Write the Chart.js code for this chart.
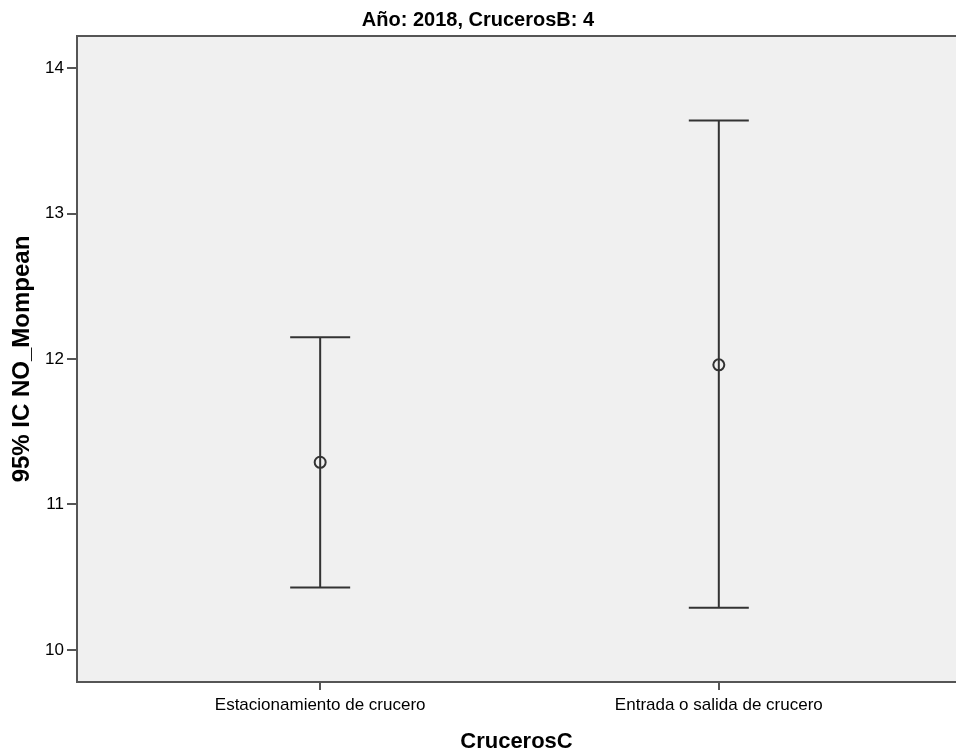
<!DOCTYPE html>
<html>
<head>
<meta charset="utf-8">
<script src="https://cdn.jsdelivr.net/npm/chart.js@4.4.1/dist/chart.umd.min.js"></script>
<style>
  html, body { margin: 0; padding: 0; background: #fff; overflow: hidden; }
  #wrap { width: 956px; height: 756px; }
  canvas { display: block; }
</style>
</head>
<body>
<div id="wrap"><canvas id="chart"></canvas></div>
<script>
const categories = ["Estacionamiento de crucero", "Entrada o salida de crucero"];
const means = [11.29, 11.96];
const lower = [10.43, 10.29];
const upper = [12.15, 13.64];
const yTicks = [10, 11, 12, 13, 14];

const FONT = "'Liberation Sans', Arial, sans-serif";
const AXIS = "#555";
const INK = "#333";

// grey plot background + top frame line
const plotBg = {
    id: "plotBg",
    beforeDraw(chart) {
        const { ctx, chartArea: a } = chart;
        ctx.save();
        ctx.fillStyle = "#f0f0f0";
        ctx.fillRect(a.left, a.top, a.right - a.left, a.bottom - a.top);
        ctx.strokeStyle = AXIS;
        ctx.lineWidth = 2;
        ctx.beginPath();
        ctx.moveTo(a.left, a.top);
        ctx.lineTo(a.right, a.top);
        ctx.stroke();
        ctx.restore();
    }
};

// 95% CI whiskers with caps
const errorBars = {
    id: "errorBars",
    beforeDatasetsDraw(chart) {
        const { ctx, scales: { x, y } } = chart;
        const cap = 30;
        ctx.save();
        ctx.strokeStyle = INK;
        ctx.lineWidth = 2;
        categories.forEach((c, i) => {
            const px = x.getPixelForValue(i + 1);
            const top = y.getPixelForValue(upper[i]);
            const bot = y.getPixelForValue(lower[i]);
            ctx.beginPath();
            ctx.moveTo(px, top);
            ctx.lineTo(px, bot);
            ctx.moveTo(px - cap, top);
            ctx.lineTo(px + cap, top);
            ctx.moveTo(px - cap, bot);
            ctx.lineTo(px + cap, bot);
            ctx.stroke();
        });
        ctx.restore();
    }
};

new Chart(document.getElementById("chart"), {
    type: "scatter",
    data: {
        datasets: [{
            data: means.map((m, i) => ({ x: i + 1, y: m })),
            pointStyle: "circle",
            pointRadius: 5.5,
            borderColor: INK,
            borderWidth: 2,
            backgroundColor: "rgba(0,0,0,0)"
        }]
    },
    options: {
        responsive: true,
        maintainAspectRatio: false,
        animation: false,
        layout: { padding: 0, autoPadding: false },
        plugins: {
            legend: { display: false },
            tooltip: { enabled: false },
            title: {
                display: true,
                text: "Año: 2018, CrucerosB: 4",
                color: "#000",
                font: { family: FONT, size: 20, weight: "bold" },
                padding: { top: 8, bottom: 4 }
            }
        },
        scales: {
            x: {
                type: "linear",
                min: 0.39,
                max: 2.595,
                afterBuildTicks: s => { s.ticks = categories.map((c, i) => ({ value: i + 1 })); },
                afterFit: s => { s.height = 74; s.paddingLeft = 0; s.paddingRight = 0; },
                ticks: {
                    callback: v => categories[Math.round(v) - 1],
                    color: "#000",
                    font: { family: FONT, size: 17 },
                    padding: 5,
                    autoSkip: false,
                    maxRotation: 0
                },
                grid: { drawOnChartArea: false, tickLength: 8, color: AXIS, lineWidth: 2 },
                border: { color: AXIS, width: 2 },
                title: {
                    display: true,
                    text: "CrucerosC",
                    color: "#000",
                    font: { family: FONT, size: 22, weight: "bold" },
                    padding: { top: 0, bottom: 1 }
                }
            },
            y: {
                min: 9.78,
                max: 14.22,
                afterBuildTicks: s => { s.ticks = yTicks.map(v => ({ value: v })); },
                afterFit: s => { s.width = 77; s.paddingTop = 0; s.paddingBottom = 0; },
                ticks: {
                    color: "#000",
                    font: { family: FONT, size: 17 },
                    padding: 3
                },
                grid: { drawOnChartArea: false, tickLength: 10, color: AXIS, lineWidth: 2 },
                border: { color: AXIS, width: 2 },
                title: {
                    display: true,
                    text: "95% IC NO_Mompean",
                    color: "#000",
                    font: { family: FONT, size: 24, weight: "bold" },
                    padding: { top: 8, bottom: 0 }
                }
            }
        }
    },
    plugins: [plotBg, errorBars]
});
</script>
</body>
</html>
